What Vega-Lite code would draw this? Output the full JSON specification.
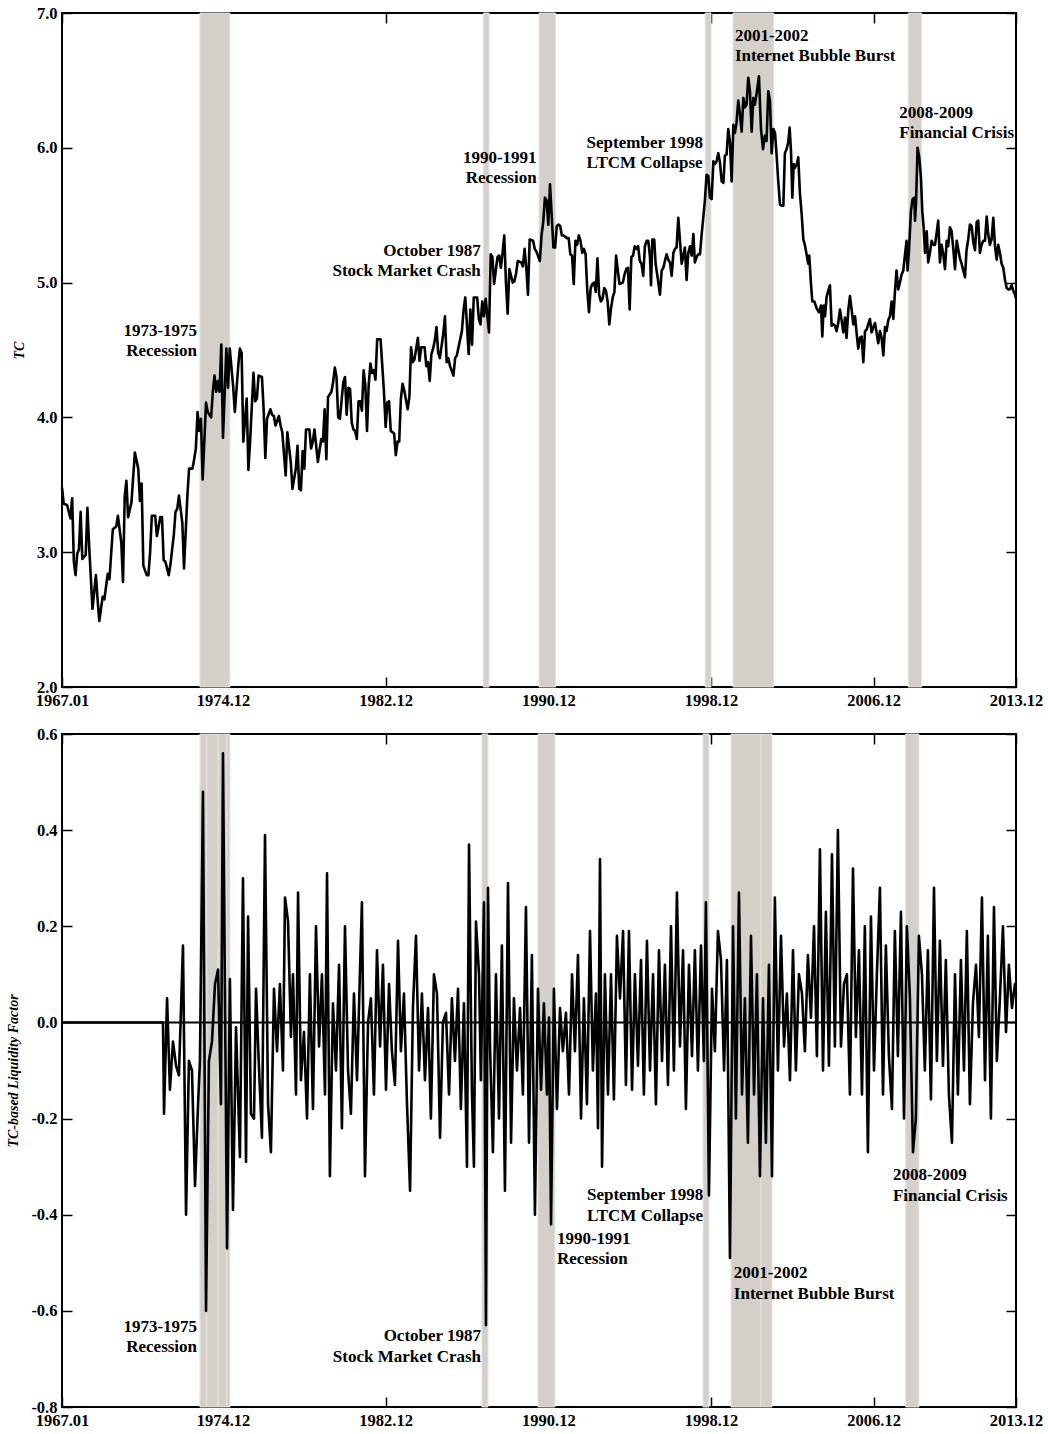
{
"$schema":"https://vega.github.io/schema/vega-lite/v6.json",
"padding":{"left":5,"top":4,"right":0,"bottom":0},
"spacing":47,
"bounds":"flush",
"config":{
 "view":{"stroke":"black","strokeWidth":2},
 "axis":{"labelFont":"Liberation Serif","labelFontWeight":"bold","labelFontSize":16.5,"labelColor":"black","tickColor":"black","tickWidth":1.5,"tickSize":-10,"labelPadding":15,"domain":false,"grid":false,"labelFlush":false,"labelOverlap":false,"titleFont":"Liberation Serif","titleFontStyle":"italic","titleFontWeight":"bold","titleFontSize":14,"titleColor":"black","titlePadding":10},
 "text":{"font":"Liberation Serif","fontWeight":"bold","fontSize":17,"color":"black","baseline":"middle"}
},
"datasets":{
 "tc":[{"m":0,"v":3.48},{"m":1,"v":3.36},{"m":3,"v":3.35},{"m":5,"v":3.25},{"m":6,"v":3.40},{"m":7,"v":2.93},{"m":8,"v":2.83},{"m":9,"v":2.99},{"m":10,"v":3.02},{"m":11,"v":3.30},{"m":12,"v":2.95},{"m":14,"v":2.98},{"m":15,"v":3.33},{"m":16,"v":3.05},{"m":18,"v":2.58},{"m":20,"v":2.83},{"m":21,"v":2.65},{"m":22,"v":2.49},{"m":24,"v":2.67},{"m":25,"v":2.65},{"m":27,"v":2.84},{"m":28,"v":2.80},{"m":30,"v":3.17},{"m":32,"v":3.19},{"m":33,"v":3.27},{"m":35,"v":3.07},{"m":36,"v":2.78},{"m":37,"v":3.41},{"m":38,"v":3.53},{"m":39,"v":3.26},{"m":41,"v":3.37},{"m":43,"v":3.74},{"m":45,"v":3.62},{"m":46,"v":3.38},{"m":47,"v":3.51},{"m":48,"v":2.90},{"m":50,"v":2.83},{"m":51,"v":2.83},{"m":52,"v":3.00},{"m":53,"v":3.27},{"m":55,"v":3.27},{"m":56,"v":3.12},{"m":58,"v":3.26},{"m":59,"v":3.26},{"m":60,"v":2.94},{"m":61,"v":2.93},{"m":63,"v":2.83},{"m":64,"v":2.91},{"m":66,"v":3.13},{"m":67,"v":3.30},{"m":68,"v":3.32},{"m":69,"v":3.42},{"m":71,"v":3.22},{"m":72,"v":2.88},{"m":74,"v":3.42},{"m":75,"v":3.62},{"m":77,"v":3.62},{"m":78,"v":3.69},{"m":79,"v":3.77},{"m":80,"v":4.04},{"m":81,"v":3.90},{"m":82,"v":3.99},{"m":83,"v":3.54},{"m":85,"v":4.11},{"m":86,"v":4.04},{"m":88,"v":4.00},{"m":89,"v":4.19},{"m":90,"v":4.31},{"m":91,"v":4.19},{"m":92,"v":4.27},{"m":93,"v":4.19},{"m":94,"v":4.54},{"m":95,"v":3.85},{"m":97,"v":4.51},{"m":98,"v":4.22},{"m":99,"v":4.51},{"m":101,"v":4.23},{"m":102,"v":4.04},{"m":104,"v":4.38},{"m":105,"v":4.51},{"m":106,"v":4.48},{"m":107,"v":3.82},{"m":109,"v":4.14},{"m":110,"v":3.61},{"m":111,"v":3.82},{"m":113,"v":4.33},{"m":114,"v":4.12},{"m":115,"v":4.14},{"m":116,"v":4.31},{"m":118,"v":4.30},{"m":119,"v":4.06},{"m":120,"v":3.70},{"m":121,"v":3.99},{"m":123,"v":4.06},{"m":124,"v":4.02},{"m":125,"v":4.01},{"m":126,"v":3.94},{"m":128,"v":4.01},{"m":129,"v":3.94},{"m":130,"v":3.89},{"m":132,"v":3.57},{"m":133,"v":3.89},{"m":135,"v":3.67},{"m":136,"v":3.47},{"m":138,"v":3.62},{"m":139,"v":3.79},{"m":140,"v":3.47},{"m":141,"v":3.46},{"m":142,"v":3.75},{"m":143,"v":3.62},{"m":144,"v":3.91},{"m":146,"v":3.91},{"m":147,"v":3.77},{"m":148,"v":3.82},{"m":149,"v":3.91},{"m":151,"v":3.67},{"m":153,"v":3.84},{"m":154,"v":3.82},{"m":155,"v":4.06},{"m":156,"v":3.69},{"m":157,"v":4.15},{"m":159,"v":4.19},{"m":160,"v":4.26},{"m":161,"v":4.37},{"m":162,"v":4.30},{"m":163,"v":4.00},{"m":164,"v":3.99},{"m":166,"v":4.26},{"m":167,"v":4.30},{"m":168,"v":4.02},{"m":169,"v":4.22},{"m":170,"v":4.21},{"m":171,"v":3.96},{"m":172,"v":3.91},{"m":173,"v":3.90},{"m":174,"v":3.84},{"m":175,"v":4.12},{"m":176,"v":4.12},{"m":177,"v":4.05},{"m":178,"v":4.35},{"m":179,"v":4.24},{"m":180,"v":3.90},{"m":181,"v":4.24},{"m":182,"v":4.40},{"m":183,"v":4.33},{"m":184,"v":4.35},{"m":185,"v":4.28},{"m":186,"v":4.58},{"m":188,"v":4.58},{"m":190,"v":4.19},{"m":191,"v":3.93},{"m":192,"v":4.11},{"m":193,"v":4.12},{"m":194,"v":3.90},{"m":196,"v":3.88},{"m":197,"v":3.72},{"m":198,"v":3.82},{"m":199,"v":3.82},{"m":200,"v":4.14},{"m":201,"v":4.25},{"m":202,"v":4.20},{"m":204,"v":4.06},{"m":205,"v":4.15},{"m":206,"v":4.52},{"m":207,"v":4.41},{"m":208,"v":4.43},{"m":210,"v":4.59},{"m":211,"v":4.42},{"m":212,"v":4.52},{"m":214,"v":4.52},{"m":215,"v":4.38},{"m":216,"v":4.41},{"m":217,"v":4.27},{"m":218,"v":4.47},{"m":219,"v":4.51},{"m":220,"v":4.57},{"m":221,"v":4.67},{"m":222,"v":4.48},{"m":223,"v":4.44},{"m":225,"v":4.62},{"m":226,"v":4.75},{"m":227,"v":4.41},{"m":228,"v":4.44},{"m":229,"v":4.38},{"m":231,"v":4.31},{"m":232,"v":4.44},{"m":233,"v":4.46},{"m":234,"v":4.52},{"m":236,"v":4.64},{"m":237,"v":4.80},{"m":238,"v":4.89},{"m":240,"v":4.47},{"m":241,"v":4.80},{"m":242,"v":4.54},{"m":243,"v":4.89},{"m":245,"v":4.89},{"m":246,"v":4.73},{"m":247,"v":4.69},{"m":248,"v":4.86},{"m":249,"v":4.75},{"m":250,"v":4.88},{"m":252,"v":4.63},{"m":253,"v":5.21},{"m":254,"v":5.19},{"m":255,"v":4.99},{"m":256,"v":5.09},{"m":257,"v":5.19},{"m":258,"v":5.20},{"m":259,"v":5.11},{"m":260,"v":5.22},{"m":261,"v":5.35},{"m":262,"v":5.00},{"m":263,"v":4.77},{"m":264,"v":5.10},{"m":266,"v":5.00},{"m":267,"v":5.01},{"m":268,"v":5.07},{"m":269,"v":5.16},{"m":271,"v":5.15},{"m":272,"v":5.12},{"m":273,"v":5.25},{"m":274,"v":5.11},{"m":275,"v":4.91},{"m":276,"v":5.32},{"m":278,"v":5.31},{"m":279,"v":5.25},{"m":280,"v":5.23},{"m":282,"v":5.16},{"m":283,"v":5.35},{"m":284,"v":5.45},{"m":285,"v":5.63},{"m":286,"v":5.61},{"m":287,"v":5.43},{"m":288,"v":5.73},{"m":289,"v":5.50},{"m":290,"v":5.26},{"m":291,"v":5.26},{"m":292,"v":5.42},{"m":293,"v":5.43},{"m":294,"v":5.42},{"m":295,"v":5.35},{"m":296,"v":5.35},{"m":298,"v":5.33},{"m":299,"v":5.33},{"m":300,"v":5.21},{"m":301,"v":5.20},{"m":302,"v":4.99},{"m":303,"v":5.31},{"m":304,"v":5.28},{"m":305,"v":5.35},{"m":306,"v":5.31},{"m":307,"v":5.22},{"m":308,"v":5.25},{"m":309,"v":5.21},{"m":310,"v":4.94},{"m":311,"v":4.78},{"m":312,"v":4.96},{"m":313,"v":4.99},{"m":314,"v":5.00},{"m":315,"v":4.93},{"m":316,"v":5.18},{"m":317,"v":4.91},{"m":318,"v":4.86},{"m":319,"v":4.88},{"m":320,"v":4.96},{"m":321,"v":4.94},{"m":322,"v":4.86},{"m":323,"v":4.69},{"m":324,"v":4.81},{"m":325,"v":4.89},{"m":326,"v":4.93},{"m":327,"v":5.20},{"m":328,"v":5.09},{"m":329,"v":4.99},{"m":331,"v":5.00},{"m":332,"v":5.06},{"m":333,"v":5.10},{"m":334,"v":5.11},{"m":335,"v":4.80},{"m":336,"v":5.19},{"m":337,"v":5.20},{"m":338,"v":5.27},{"m":339,"v":5.25},{"m":340,"v":5.27},{"m":341,"v":5.16},{"m":342,"v":5.14},{"m":343,"v":5.05},{"m":344,"v":5.27},{"m":345,"v":5.31},{"m":346,"v":5.31},{"m":347,"v":5.19},{"m":347.6,"v":4.98},{"m":348.4,"v":5.32},{"m":349.5,"v":5.32},{"m":350.3,"v":5.14},{"m":351.5,"v":5.04},{"m":352.9,"v":4.91},{"m":353.9,"v":5.09},{"m":354.9,"v":5.11},{"m":355.8,"v":5.16},{"m":356.8,"v":5.21},{"m":357.8,"v":5.17},{"m":358.8,"v":5.15},{"m":359.8,"v":5.05},{"m":360.8,"v":5.22},{"m":361.7,"v":5.25},{"m":362.7,"v":5.26},{"m":363.7,"v":5.48},{"m":364.7,"v":5.31},{"m":365.7,"v":5.14},{"m":366.7,"v":5.20},{"m":367.6,"v":5.26},{"m":368.6,"v":5.02},{"m":369.6,"v":5.22},{"m":370.6,"v":5.27},{"m":371.6,"v":5.20},{"m":372.6,"v":5.36},{"m":373.5,"v":5.15},{"m":374.5,"v":5.19},{"m":375.5,"v":5.21},{"m":376.5,"v":5.21},{"m":377.5,"v":5.36},{"m":378.5,"v":5.49},{"m":379.4,"v":5.61},{"m":380.4,"v":5.80},{"m":381.4,"v":5.79},{"m":382.4,"v":5.63},{"m":383.4,"v":5.62},{"m":384.4,"v":5.90},{"m":385.3,"v":5.88},{"m":386.3,"v":5.90},{"m":387.3,"v":5.96},{"m":388.3,"v":5.89},{"m":389.3,"v":5.75},{"m":390.3,"v":5.74},{"m":391.2,"v":5.94},{"m":392.2,"v":5.95},{"m":393.2,"v":6.14},{"m":394.2,"v":6.04},{"m":395.2,"v":5.75},{"m":396.2,"v":6.17},{"m":397.1,"v":6.11},{"m":398.1,"v":6.19},{"m":399.1,"v":6.35},{"m":400.1,"v":6.25},{"m":401.1,"v":6.12},{"m":402.1,"v":6.37},{"m":403.0,"v":6.30},{"m":404.0,"v":6.32},{"m":405.0,"v":6.52},{"m":406.0,"v":6.42},{"m":407.0,"v":6.12},{"m":408.0,"v":6.37},{"m":408.9,"v":6.32},{"m":409.9,"v":6.40},{"m":411.3,"v":6.53},{"m":412.5,"v":6.14},{"m":413.7,"v":5.99},{"m":414.8,"v":6.09},{"m":415.8,"v":6.05},{"m":416.8,"v":6.42},{"m":417.8,"v":6.35},{"m":418.8,"v":5.96},{"m":419.8,"v":6.14},{"m":420.8,"v":6.11},{"m":421.7,"v":5.95},{"m":422.7,"v":5.75},{"m":423.7,"v":5.58},{"m":424.7,"v":5.57},{"m":425.7,"v":5.57},{"m":426.6,"v":5.96},{"m":427.6,"v":5.99},{"m":428.6,"v":6.04},{"m":429.4,"v":6.15},{"m":430.2,"v":5.98},{"m":431.0,"v":5.63},{"m":431.8,"v":5.88},{"m":432.5,"v":5.85},{"m":433.7,"v":5.88},{"m":434.5,"v":5.93},{"m":435.5,"v":5.66},{"m":436.5,"v":5.51},{"m":437.5,"v":5.32},{"m":438.4,"v":5.28},{"m":439.4,"v":5.21},{"m":440.4,"v":5.14},{"m":441.0,"v":5.20},{"m":442.0,"v":4.99},{"m":442.8,"v":4.86},{"m":444.0,"v":4.86},{"m":445.3,"v":4.81},{"m":446.7,"v":4.78},{"m":447.9,"v":4.83},{"m":448.7,"v":4.60},{"m":449.5,"v":4.83},{"m":450.3,"v":4.75},{"m":451.2,"v":4.89},{"m":452.2,"v":4.94},{"m":453.2,"v":4.98},{"m":454.2,"v":4.68},{"m":455.2,"v":4.69},{"m":456.2,"v":4.68},{"m":457.1,"v":4.64},{"m":458.1,"v":4.70},{"m":459.1,"v":4.80},{"m":460.1,"v":4.72},{"m":461.1,"v":4.63},{"m":462.1,"v":4.74},{"m":463.0,"v":4.59},{"m":464.0,"v":4.79},{"m":465.0,"v":4.90},{"m":466.0,"v":4.80},{"m":467.0,"v":4.69},{"m":468.0,"v":4.75},{"m":468.9,"v":4.63},{"m":469.9,"v":4.51},{"m":470.9,"v":4.59},{"m":471.9,"v":4.60},{"m":472.9,"v":4.41},{"m":473.9,"v":4.64},{"m":474.8,"v":4.65},{"m":475.8,"v":4.69},{"m":476.8,"v":4.73},{"m":477.8,"v":4.63},{"m":478.8,"v":4.67},{"m":479.8,"v":4.70},{"m":480.7,"v":4.63},{"m":481.7,"v":4.55},{"m":482.7,"v":4.64},{"m":483.7,"v":4.59},{"m":484.7,"v":4.46},{"m":485.7,"v":4.67},{"m":486.6,"v":4.64},{"m":487.6,"v":4.72},{"m":488.6,"v":4.75},{"m":489.6,"v":4.86},{"m":490.6,"v":4.73},{"m":491.6,"v":4.94},{"m":492.5,"v":5.09},{"m":493.5,"v":4.95},{"m":494.5,"v":5.00},{"m":495.5,"v":5.06},{"m":496.5,"v":5.09},{"m":497.5,"v":5.21},{"m":498.4,"v":5.31},{"m":499.0,"v":5.09},{"m":499.8,"v":5.23},{"m":501.0,"v":5.53},{"m":502.0,"v":5.62},{"m":503.0,"v":5.63},{"m":503.4,"v":5.46},{"m":504.0,"v":5.59},{"m":504.9,"v":6.00},{"m":505.9,"v":5.93},{"m":506.9,"v":5.78},{"m":507.7,"v":5.53},{"m":508.5,"v":5.41},{"m":509.3,"v":5.22},{"m":510.3,"v":5.38},{"m":511.2,"v":5.15},{"m":512.2,"v":5.22},{"m":513.2,"v":5.31},{"m":514.2,"v":5.28},{"m":515.2,"v":5.28},{"m":516.2,"v":5.37},{"m":517.1,"v":5.46},{"m":518.1,"v":5.15},{"m":519.1,"v":5.28},{"m":520.1,"v":5.21},{"m":521.1,"v":5.10},{"m":522.1,"v":5.31},{"m":523.0,"v":5.27},{"m":524.0,"v":5.41},{"m":525.0,"v":5.38},{"m":526.0,"v":5.25},{"m":527.0,"v":5.10},{"m":528.0,"v":5.31},{"m":528.9,"v":5.25},{"m":529.9,"v":5.18},{"m":530.9,"v":5.14},{"m":531.9,"v":5.09},{"m":532.9,"v":5.04},{"m":533.8,"v":5.24},{"m":534.8,"v":5.32},{"m":535.8,"v":5.43},{"m":536.8,"v":5.42},{"m":537.8,"v":5.30},{"m":538.8,"v":5.24},{"m":539.8,"v":5.45},{"m":540.7,"v":5.46},{"m":541.7,"v":5.22},{"m":542.7,"v":5.28},{"m":543.7,"v":5.31},{"m":544.7,"v":5.31},{"m":545.7,"v":5.49},{"m":546.6,"v":5.36},{"m":547.6,"v":5.28},{"m":548.6,"v":5.32},{"m":549.6,"v":5.48},{"m":550.6,"v":5.27},{"m":551.6,"v":5.17},{"m":552.5,"v":5.28},{"m":553.5,"v":5.22},{"m":554.5,"v":5.14},{"m":555.5,"v":5.11},{"m":556.5,"v":5.02},{"m":557.5,"v":4.96},{"m":558.4,"v":4.95},{"m":559.4,"v":4.95},{"m":560.4,"v":4.98},{"m":561.4,"v":4.94},{"m":562.4,"v":4.91},{"m":563,"v":4.88}],
 "lf":[{"m":0,"v":0},{"m":59.6,"v":0},{"m":60.2,"v":-0.19},{"m":62.0,"v":0.05},{"m":63.7,"v":-0.14},{"m":65.5,"v":-0.04},{"m":67.3,"v":-0.09},{"m":69.0,"v":-0.11},{"m":71.4,"v":0.16},{"m":73.2,"v":-0.40},{"m":74.9,"v":-0.08},{"m":76.7,"v":-0.10},{"m":78.5,"v":-0.34},{"m":80.3,"v":-0.17},{"m":81.4,"v":-0.08},{"m":83.2,"v":0.48},{"m":85.0,"v":-0.60},{"m":86.7,"v":-0.08},{"m":88.5,"v":-0.04},{"m":90.3,"v":0.08},{"m":92.1,"v":0.11},{"m":93.8,"v":-0.17},{"m":95.0,"v":0.56},{"m":97.4,"v":-0.47},{"m":99.1,"v":0.09},{"m":100.9,"v":-0.39},{"m":102.7,"v":-0.01},{"m":105.0,"v":-0.28},{"m":106.8,"v":0.30},{"m":108.6,"v":-0.29},{"m":109.8,"v":0.22},{"m":111.5,"v":-0.19},{"m":113.3,"v":-0.20},{"m":114.5,"v":0.07},{"m":116.2,"v":-0.09},{"m":118.0,"v":-0.24},{"m":119.8,"v":0.39},{"m":121.6,"v":-0.17},{"m":123.3,"v":-0.27},{"m":125.1,"v":0.07},{"m":126.9,"v":-0.06},{"m":128.6,"v":0.08},{"m":130.4,"v":-0.10},{"m":131.6,"v":0.26},{"m":133.4,"v":0.21},{"m":135.1,"v":-0.03},{"m":136.3,"v":0.10},{"m":138.1,"v":-0.15},{"m":139.3,"v":0.27},{"m":141.0,"v":-0.12},{"m":142.8,"v":-0.02},{"m":144.6,"v":-0.20},{"m":146.3,"v":0.10},{"m":148.1,"v":-0.18},{"m":149.9,"v":0.20},{"m":151.7,"v":-0.05},{"m":153.4,"v":0.10},{"m":155.2,"v":-0.15},{"m":156.4,"v":0.31},{"m":158.1,"v":-0.32},{"m":159.9,"v":0.04},{"m":161.7,"v":-0.10},{"m":163.5,"v":0.12},{"m":165.2,"v":-0.22},{"m":167.0,"v":0.20},{"m":168.8,"v":-0.10},{"m":170.5,"v":-0.19},{"m":172.3,"v":0.06},{"m":174.1,"v":-0.12},{"m":175.8,"v":0.10},{"m":177.0,"v":0.25},{"m":178.8,"v":-0.32},{"m":180.6,"v":0.00},{"m":182.3,"v":0.05},{"m":184.1,"v":-0.15},{"m":185.9,"v":0.15},{"m":187.7,"v":-0.05},{"m":189.4,"v":0.12},{"m":191.2,"v":-0.14},{"m":193.0,"v":0.08},{"m":194.7,"v":-0.06},{"m":196.5,"v":-0.13},{"m":198.3,"v":0.17},{"m":200.0,"v":-0.06},{"m":201.8,"v":0.06},{"m":203.6,"v":-0.17},{"m":205.4,"v":-0.35},{"m":207.1,"v":0.03},{"m":208.9,"v":0.18},{"m":210.7,"v":-0.10},{"m":212.4,"v":0.06},{"m":214.2,"v":-0.12},{"m":216.0,"v":0.03},{"m":217.7,"v":-0.20},{"m":219.5,"v":0.10},{"m":221.3,"v":0.06},{"m":223.1,"v":-0.24},{"m":224.8,"v":0.00},{"m":226.6,"v":0.02},{"m":228.4,"v":-0.15},{"m":230.1,"v":0.05},{"m":231.9,"v":-0.08},{"m":233.7,"v":0.07},{"m":235.4,"v":-0.18},{"m":237.2,"v":0.04},{"m":239.0,"v":-0.30},{"m":240.2,"v":0.37},{"m":241.9,"v":-0.14},{"m":243.1,"v":-0.30},{"m":244.3,"v":0.21},{"m":246.1,"v":0.10},{"m":247.2,"v":-0.12},{"m":249.0,"v":0.25},{"m":250.2,"v":-0.63},{"m":251.4,"v":0.28},{"m":252.6,"v":-0.05},{"m":254.3,"v":-0.27},{"m":256.1,"v":0.10},{"m":257.9,"v":-0.20},{"m":259.6,"v":0.16},{"m":261.4,"v":-0.35},{"m":263.2,"v":0.29},{"m":265.0,"v":-0.25},{"m":266.7,"v":0.05},{"m":268.5,"v":-0.10},{"m":270.3,"v":0.03},{"m":272.0,"v":-0.15},{"m":273.8,"v":0.24},{"m":275.6,"v":-0.25},{"m":277.3,"v":0.14},{"m":279.1,"v":-0.40},{"m":280.9,"v":0.07},{"m":282.7,"v":-0.14},{"m":284.4,"v":0.04},{"m":286.2,"v":-0.15},{"m":287.4,"v":0.01},{"m":288.6,"v":-0.42},{"m":290.3,"v":0.07},{"m":292.1,"v":-0.18},{"m":293.9,"v":0.03},{"m":295.6,"v":-0.06},{"m":297.4,"v":0.02},{"m":299.2,"v":-0.15},{"m":301.0,"v":0.10},{"m":302.7,"v":-0.06},{"m":304.5,"v":0.14},{"m":306.3,"v":-0.20},{"m":308.0,"v":0.05},{"m":309.8,"v":-0.17},{"m":311.6,"v":0.19},{"m":313.3,"v":-0.10},{"m":315.1,"v":0.06},{"m":316.3,"v":-0.22},{"m":317.5,"v":0.34},{"m":318.7,"v":-0.30},{"m":320.4,"v":0.10},{"m":322.2,"v":-0.15},{"m":324.0,"v":0.10},{"m":325.7,"v":-0.16},{"m":327.5,"v":0.18},{"m":329.3,"v":0.05},{"m":331.1,"v":0.19},{"m":332.8,"v":-0.13},{"m":334.6,"v":0.19},{"m":336.4,"v":-0.14},{"m":338.1,"v":0.10},{"m":339.9,"v":-0.09},{"m":341.7,"v":0.13},{"m":343.4,"v":-0.15},{"m":345.2,"v":0.17},{"m":347.0,"v":-0.10},{"m":348.8,"v":0.10},{"m":350.5,"v":-0.17},{"m":352.3,"v":0.15},{"m":354.1,"v":-0.08},{"m":355.8,"v":0.12},{"m":357.6,"v":-0.13},{"m":359.4,"v":0.20},{"m":361.1,"v":-0.10},{"m":362.9,"v":0.27},{"m":364.7,"v":-0.05},{"m":366.5,"v":0.15},{"m":368.2,"v":-0.18},{"m":370.0,"v":0.12},{"m":371.8,"v":-0.07},{"m":373.5,"v":0.15},{"m":375.3,"v":-0.10},{"m":377.1,"v":0.16},{"m":378.8,"v":-0.08},{"m":380.0,"v":0.25},{"m":381.8,"v":-0.36},{"m":383.6,"v":0.07},{"m":385.3,"v":-0.06},{"m":387.1,"v":0.19},{"m":388.9,"v":0.13},{"m":390.7,"v":-0.10},{"m":392.4,"v":0.13},{"m":394.2,"v":-0.49},{"m":396.0,"v":0.20},{"m":397.7,"v":-0.20},{"m":399.5,"v":0.27},{"m":401.3,"v":-0.15},{"m":403.0,"v":0.05},{"m":404.8,"v":-0.25},{"m":406.6,"v":0.18},{"m":408.4,"v":-0.15},{"m":410.1,"v":0.10},{"m":411.9,"v":-0.32},{"m":413.7,"v":0.05},{"m":415.4,"v":-0.25},{"m":417.2,"v":0.12},{"m":419.0,"v":-0.32},{"m":420.7,"v":0.26},{"m":422.5,"v":-0.10},{"m":424.3,"v":0.18},{"m":426.1,"v":-0.05},{"m":427.8,"v":0.06},{"m":429.6,"v":-0.12},{"m":431.4,"v":0.15},{"m":433.1,"v":-0.10},{"m":434.9,"v":0.10},{"m":436.7,"v":0.06},{"m":438.4,"v":-0.06},{"m":440.2,"v":0.14},{"m":442.0,"v":0.01},{"m":443.8,"v":0.20},{"m":445.5,"v":-0.07},{"m":447.3,"v":0.36},{"m":449.1,"v":-0.10},{"m":450.8,"v":0.23},{"m":452.6,"v":-0.09},{"m":454.4,"v":0.35},{"m":456.1,"v":-0.05},{"m":457.9,"v":0.40},{"m":459.7,"v":-0.05},{"m":461.5,"v":0.08},{"m":463.2,"v":0.10},{"m":465.0,"v":-0.15},{"m":466.8,"v":0.32},{"m":468.5,"v":-0.03},{"m":470.3,"v":0.15},{"m":472.1,"v":-0.15},{"m":473.8,"v":0.20},{"m":475.6,"v":-0.27},{"m":477.4,"v":0.22},{"m":479.2,"v":-0.10},{"m":480.9,"v":0.10},{"m":482.7,"v":0.28},{"m":484.5,"v":-0.15},{"m":486.2,"v":0.16},{"m":488.0,"v":-0.07},{"m":489.8,"v":-0.18},{"m":491.5,"v":0.19},{"m":493.3,"v":-0.07},{"m":495.1,"v":0.23},{"m":496.9,"v":-0.20},{"m":498.6,"v":0.20},{"m":500.4,"v":0.05},{"m":502.2,"v":-0.27},{"m":503.9,"v":-0.20},{"m":505.7,"v":0.18},{"m":507.5,"v":0.10},{"m":509.2,"v":-0.10},{"m":511.0,"v":0.15},{"m":512.8,"v":-0.16},{"m":514.6,"v":0.28},{"m":516.3,"v":-0.08},{"m":518.1,"v":0.17},{"m":519.9,"v":-0.09},{"m":521.6,"v":0.13},{"m":523.4,"v":-0.15},{"m":525.2,"v":-0.25},{"m":527.0,"v":0.10},{"m":528.7,"v":-0.15},{"m":530.5,"v":0.13},{"m":532.3,"v":-0.10},{"m":534.0,"v":0.19},{"m":535.8,"v":-0.17},{"m":537.6,"v":0.04},{"m":539.4,"v":0.12},{"m":541.1,"v":-0.03},{"m":542.9,"v":0.26},{"m":544.7,"v":-0.12},{"m":546.4,"v":0.18},{"m":548.2,"v":-0.20},{"m":550.0,"v":0.24},{"m":551.7,"v":-0.08},{"m":553.5,"v":0.05},{"m":555.3,"v":0.20},{"m":557.1,"v":-0.02},{"m":558.8,"v":0.12},{"m":560.6,"v":0.03},{"m":562.4,"v":0.08},{"m":563,"v":0.06}],
 "bandsTop":[{"s":81.4,"e":99.1},{"s":248.6,"e":252.0},{"s":281.5,"e":291.3},{"s":379.6,"e":383.0},{"s":396.0,"e":420.0},{"s":499.4,"e":507.3}],
 "bandsBot":[{"s":81.4,"e":85.4},{"s":85.4,"e":92.2},{"s":92.2,"e":97.2},{"s":97.2,"e":99.1},{"s":247.8,"e":251.4},{"s":280.9,"e":290.9},{"s":378.3,"e":381.8},{"s":394.8,"e":412.5},{"s":412.5,"e":419.0},{"s":497.9,"e":505.7}],
 "txtTop":[{"m":79.7,"v":4.64,"t":"1973-1975","a":"r"},{"m":79.7,"v":4.49,"t":"Recession","a":"r"},{"m":247.1,"v":5.234,"t":"October 1987","a":"r"},{"m":247.1,"v":5.086,"t":"Stock Market Crash","a":"r"},{"m":280.1,"v":5.922,"t":"1990-1991","a":"r"},{"m":280.1,"v":5.778,"t":"Recession","a":"r"},{"m":309.6,"v":6.038,"t":"September 1998","a":"l"},{"m":309.6,"v":5.890,"t":"LTCM Collapse","a":"l"},{"m":397.1,"v":6.829,"t":"2001-2002","a":"l"},{"m":397.1,"v":6.681,"t":"Internet Bubble Burst","a":"l"},{"m":494.1,"v":6.261,"t":"2008-2009","a":"l"},{"m":494.1,"v":6.112,"t":"Financial Crisis","a":"l"}],
 "txtBot":[{"m":79.7,"v":-0.634,"t":"1973-1975","a":"r"},{"m":79.7,"v":-0.675,"t":"Recession","a":"r"},{"m":247.3,"v":-0.653,"t":"October 1987","a":"r"},{"m":247.3,"v":-0.695,"t":"Stock Market Crash","a":"r"},{"m":309.8,"v":-0.359,"t":"September 1998","a":"l"},{"m":309.8,"v":-0.403,"t":"LTCM Collapse","a":"l"},{"m":292.1,"v":-0.451,"t":"1990-1991","a":"l"},{"m":292.1,"v":-0.492,"t":"Recession","a":"l"},{"m":396.5,"v":-0.521,"t":"2001-2002","a":"l"},{"m":396.5,"v":-0.565,"t":"Internet Bubble Burst","a":"l"},{"m":490.4,"v":-0.317,"t":"2008-2009","a":"l"},{"m":490.4,"v":-0.361,"t":"Financial Crisis","a":"l"}]
},
"vconcat":[
 {
  "width":954,"height":674,
  "resolve":{"axis":{"x":"independent","y":"independent"}},
  "layer":[
   {"data":{"name":"bandsTop"},"mark":{"type":"rect","color":"#D4D0C9","stroke":"#E6E3DE","strokeWidth":1},
    "encoding":{"x":{"field":"s","type":"quantitative","scale":{"domain":[0,563],"nice":false,"zero":false},"axis":null},"x2":{"field":"e"}}},
   {"data":{"name":"tc"},"mark":{"type":"line","color":"black","strokeWidth":2.6,"strokeJoin":"round"},
    "encoding":{"x":{"field":"m","type":"quantitative","axis":{"orient":"bottom","title":null,"values":[0,95,191,287,383,479,563],"labelExpr":"(floor(datum.value/12)+1967) + '.' + (datum.value%12 < 9 ? '0' : '') + (datum.value%12 + 1)"}},
     "y":{"field":"v","type":"quantitative","scale":{"domain":[2,7],"nice":false,"zero":false},"axis":{"orient":"left","title":"TC","values":[2,3,4,5,6,7],"labelExpr":"format(datum.value,'.1f')"}}}},
   {"data":{"name":"txtTop"},"transform":[{"filter":"datum.a == 'r'"}],"mark":{"type":"text","align":"right"},
    "encoding":{"x":{"field":"m","type":"quantitative","axis":{"orient":"top","labels":false,"title":null,"values":[0,95,191,287,383,479,563]}},
     "y":{"field":"v","type":"quantitative","axis":{"orient":"right","labels":false,"title":null,"values":[2,3,4,5,6,7]}},"text":{"field":"t"}}},
   {"data":{"name":"txtTop"},"transform":[{"filter":"datum.a == 'l'"}],"mark":{"type":"text","align":"left"},
    "encoding":{"x":{"field":"m","type":"quantitative","axis":null},"y":{"field":"v","type":"quantitative","axis":null},"text":{"field":"t"}}}
  ]
 },
 {
  "width":954,"height":673,
  "resolve":{"axis":{"x":"independent","y":"independent"}},
  "layer":[
   {"data":{"name":"bandsBot"},"mark":{"type":"rect","color":"#D4D0C9","stroke":"#E6E3DE","strokeWidth":1},
    "encoding":{"x":{"field":"s","type":"quantitative","scale":{"domain":[0,563],"nice":false,"zero":false},"axis":null},"x2":{"field":"e"}}},
   {"data":{"values":[{"z":0}]},"mark":{"type":"rule","color":"black","strokeWidth":2},
    "encoding":{"y":{"field":"z","type":"quantitative","axis":null}}},
   {"data":{"name":"lf"},"mark":{"type":"line","color":"black","strokeWidth":2.6,"strokeJoin":"round"},
    "encoding":{"x":{"field":"m","type":"quantitative","axis":{"orient":"bottom","title":null,"values":[0,95,191,287,383,479,563],"labelExpr":"(floor(datum.value/12)+1967) + '.' + (datum.value%12 < 9 ? '0' : '') + (datum.value%12 + 1)"}},
     "y":{"field":"v","type":"quantitative","scale":{"domain":[-0.8,0.6],"nice":false,"zero":false},"axis":{"orient":"left","title":"TC-based Liquidity Factor","values":[-0.8,-0.6,-0.4,-0.2,0,0.2,0.4,0.6],"labelExpr":"replace(format(datum.value,'.1f'),'\u2212','-')"}}}},
   {"data":{"name":"txtBot"},"transform":[{"filter":"datum.a == 'r'"}],"mark":{"type":"text","align":"right"},
    "encoding":{"x":{"field":"m","type":"quantitative","axis":{"orient":"top","labels":false,"title":null,"values":[0,95,191,287,383,479,563]}},
     "y":{"field":"v","type":"quantitative","axis":{"orient":"right","labels":false,"title":null,"values":[-0.8,-0.6,-0.4,-0.2,0,0.2,0.4,0.6]}},"text":{"field":"t"}}},
   {"data":{"name":"txtBot"},"transform":[{"filter":"datum.a == 'l'"}],"mark":{"type":"text","align":"left"},
    "encoding":{"x":{"field":"m","type":"quantitative","axis":null},"y":{"field":"v","type":"quantitative","axis":null},"text":{"field":"t"}}}
  ]
 }
]
}
